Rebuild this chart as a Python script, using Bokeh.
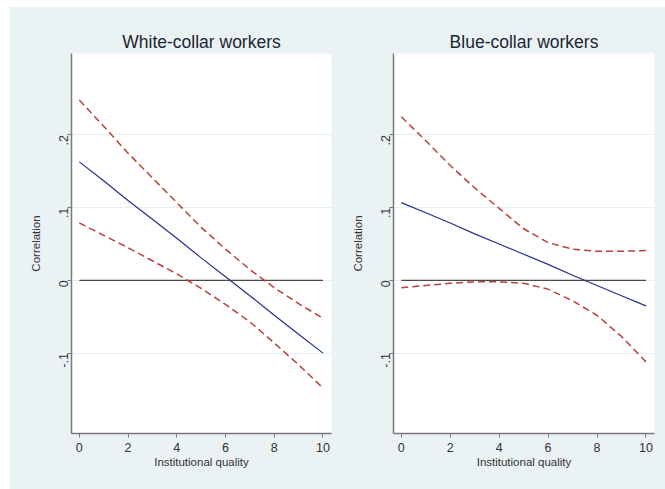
from bokeh.plotting import figure
from bokeh.layouts import row
from bokeh.models import FixedTicker, Range1d
from bokeh.embed import file_html
from bokeh.resources import INLINE

# ---- data ----
x = [0, 1, 2, 3, 4, 5, 6, 7, 8, 9, 10]

white_fit = [0.163, 0.137, 0.110, 0.084, 0.058, 0.031, 0.005, -0.021, -0.048, -0.074, -0.100]
white_upper = [0.248, 0.212, 0.175, 0.141, 0.107, 0.073, 0.043, 0.015, -0.010, -0.032, -0.052]
white_lower = [0.079, 0.062, 0.045, 0.027, 0.009, -0.011, -0.033, -0.057, -0.086, -0.116, -0.148]

blue_fit = [0.107, 0.093, 0.079, 0.064, 0.050, 0.036, 0.022, 0.007, -0.007, -0.021, -0.035]
blue_upper = [0.225, 0.192, 0.158, 0.127, 0.099, 0.071, 0.052, 0.043, 0.040, 0.040, 0.041]
blue_lower = [-0.010, -0.007, -0.004, -0.002, -0.002, -0.004, -0.012, -0.028, -0.048, -0.077, -0.112]

zero_y = [0, 0]
x_ticks = [0, 2, 4, 6, 8, 10]
y_ticks = [-0.1, 0, 0.1, 0.2]
y_tick_labels = ["-.1", "0", ".1", ".2"]
titles = ["White-collar workers", "Blue-collar workers"]
x_title = "Institutional quality"
y_title = "Correlation"

BG = "#eaf2f3"
FONT = "Liberation Sans"
FIT_COLOR = "#23308f"
CI_COLOR = "#b8403a"
AXIS_COLOR = "#7a7a7a"


def make_panel(title, fit, upper, lower, width, left, right):
    p = figure(width=width, height=482, output_backend="svg", toolbar_location=None,
               x_range=Range1d(-0.32, 10.35), y_range=Range1d(-0.2105, 0.312),
               min_border_left=left, min_border_right=right,
               min_border_top=46, min_border_bottom=56)
    p.background_fill_color = "white"
    p.border_fill_color = BG
    p.outline_line_color = None

    p.title.text = title
    p.title.align = "center"
    p.title.text_font = FONT
    p.title.text_font_size = "17.5px"
    p.title.text_font_style = "normal"
    p.title.text_color = "#1e2533"
    p.title.standoff = 4

    # axes
    p.xaxis.ticker = FixedTicker(ticks=x_ticks)
    p.yaxis.ticker = FixedTicker(ticks=y_ticks)
    p.yaxis.major_label_overrides = {t: l for t, l in zip(y_ticks, y_tick_labels)}
    p.yaxis.major_label_orientation = 3.14159265 / 2
    for ax in (p.xaxis[0], p.yaxis[0]):
        ax.axis_line_color = AXIS_COLOR
        ax.axis_line_width = 1.5
        ax.major_tick_line_color = AXIS_COLOR
        ax.major_tick_line_width = 1
        ax.major_tick_out = 4
        ax.major_tick_in = 0
        ax.minor_tick_line_color = None
        ax.major_label_text_font = FONT
        ax.major_label_text_font_size = "12.5px"
        ax.major_label_text_color = "#333333"
        ax.axis_label_text_font = FONT
        ax.axis_label_text_font_size = "11.5px"
        ax.axis_label_text_font_style = "normal"
        ax.axis_label_text_color = "#333333"
    p.xaxis.axis_label = x_title
    p.yaxis.axis_label = y_title
    p.xaxis.major_label_standoff = 5
    p.xaxis.axis_label_standoff = 1
    p.yaxis.major_label_standoff = 4
    p.yaxis.axis_label_standoff = 10

    p.xgrid.grid_line_color = None
    p.ygrid.ticker = FixedTicker(ticks=y_ticks)
    p.ygrid.grid_line_color = "#e6eef0"
    p.ygrid.grid_line_width = 1

    p.line([x[0], x[-1]], zero_y, line_color="#4a4a4a", line_width=1.3)
    p.line(x, upper, line_color=CI_COLOR, line_width=1.5, line_dash="7 4")
    p.line(x, lower, line_color=CI_COLOR, line_width=1.5, line_dash="7 4")
    p.line(x, fit, line_color=FIT_COLOR, line_width=1.2)
    return p


p1 = make_panel(titles[0], white_fit, white_upper, white_lower, 330, 61, 9)
p2 = make_panel(titles[1], blue_fit, blue_upper, blue_lower, 325, 53, 11)

layout = row(p1, p2, margin=(7, 0, 0, 10), spacing=0,
             styles={"background-color": BG})
open("out.html", "w").write(file_html(layout, INLINE))
